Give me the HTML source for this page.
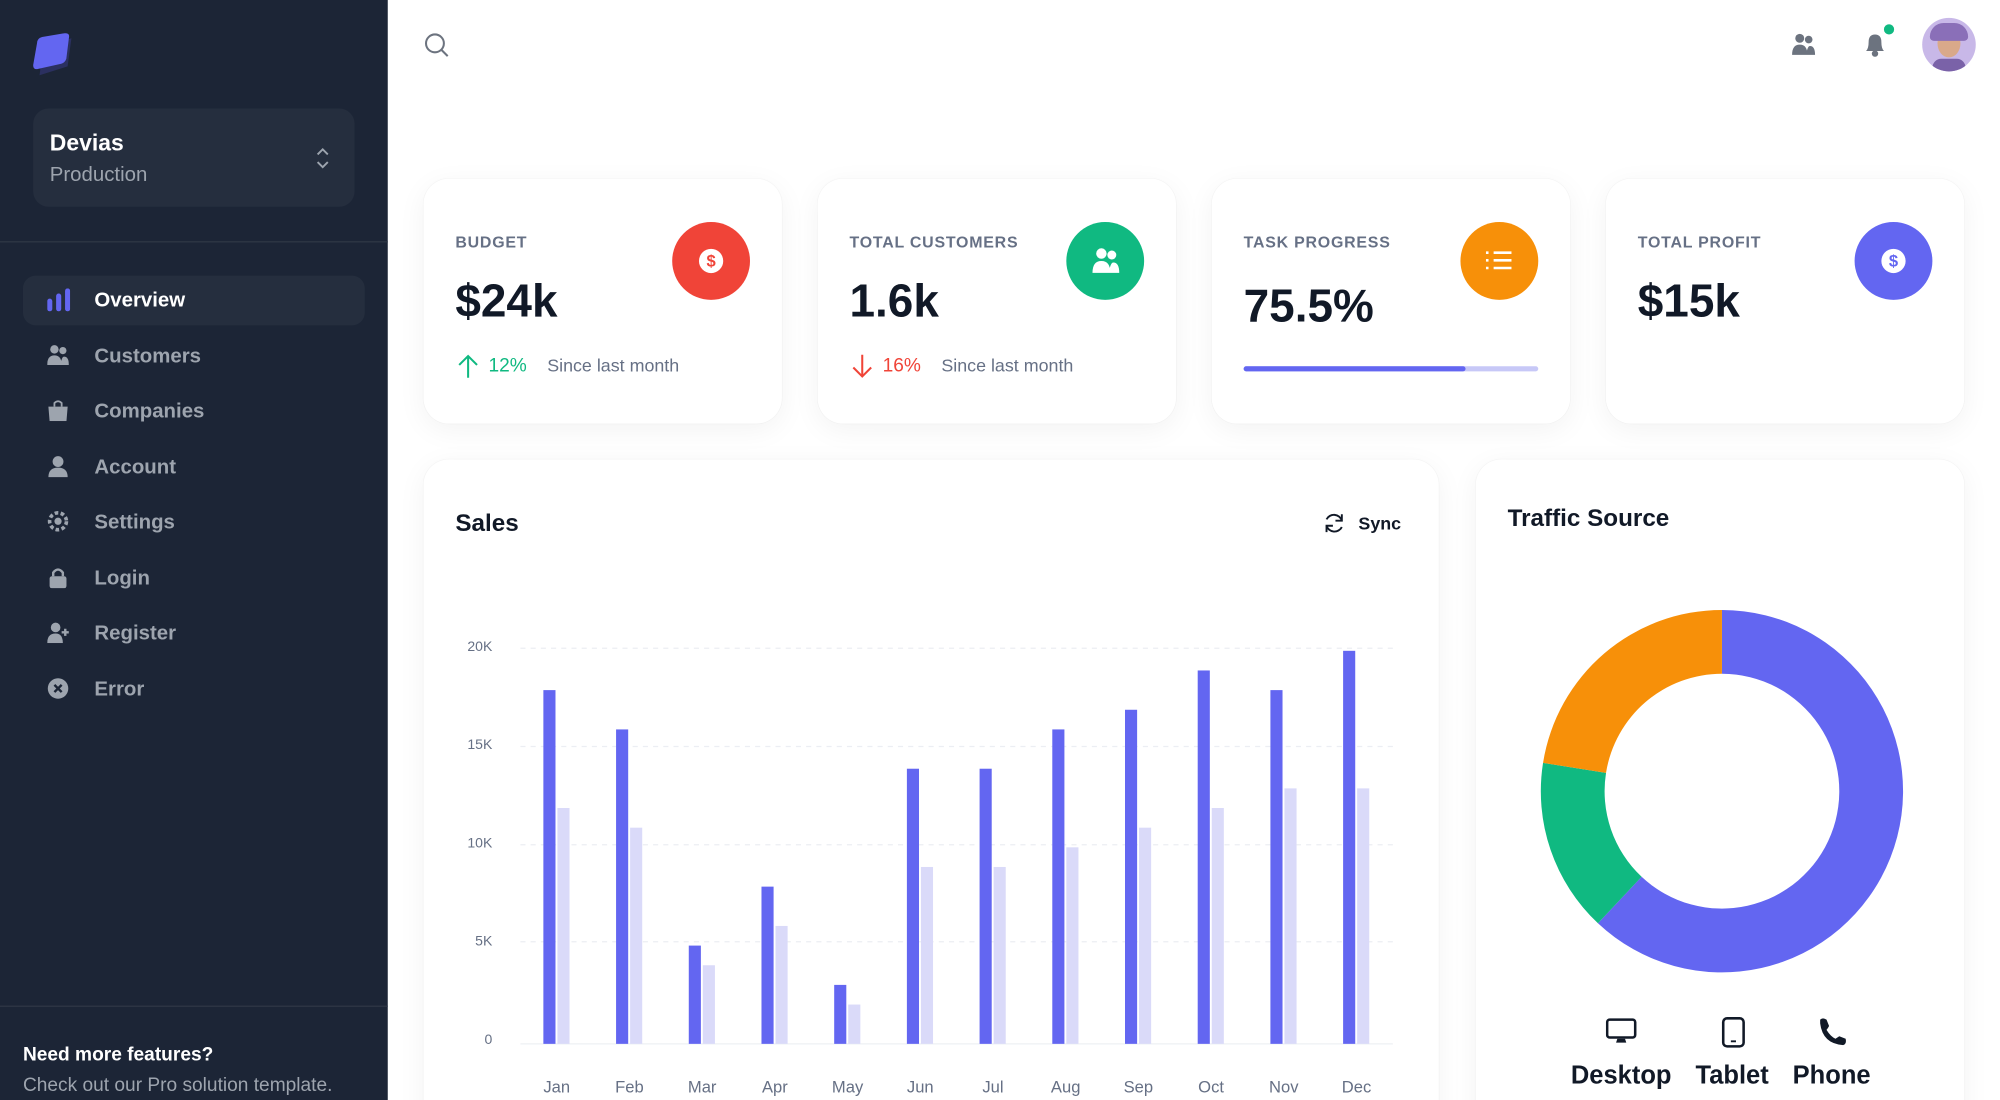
<!DOCTYPE html>
<html><head><meta charset="utf-8"><style>
html,body{margin:0;padding:0;width:2000px;height:1100px;overflow:hidden;background:#fff;font-family:"Liberation Sans",sans-serif;}
#w{position:absolute;left:0;top:0;width:2000px;height:1100px;overflow:hidden;}
#s{position:absolute;left:0;top:0;width:1568px;height:862px;overflow:hidden;transform:scale(1.27551,1.27610);transform-origin:0 0;background:#fff;}
.a{position:absolute;}
.side{left:0;top:0;width:304px;height:862px;background:#1c2536;}
.nav{position:absolute;left:74px;font-size:16px;font-weight:bold;color:#9da4ae;}
.ic{position:absolute;left:37px;width:17px;height:17px;}
.card{position:absolute;background:#fff;border-radius:20px;box-shadow:0 5px 22px rgba(0,0,0,0.05),0 0 0 0.5px rgba(0,0,0,0.03);}
.lbl{position:absolute;left:25px;top:43px;font-size:12.5px;font-weight:bold;letter-spacing:0.6px;color:#667085;}
.val{position:absolute;left:25px;top:75px;font-size:36px;font-weight:bold;color:#111927;}
.circ{position:absolute;left:195px;top:34px;width:61px;height:61px;border-radius:50%;}
.yl{position:absolute;width:30px;text-align:right;font-size:11px;color:#667085;}
.ml{position:absolute;width:40px;text-align:center;font-size:13px;color:#667085;}
</style></head><body><div id="w"><div id="s">
<div class="a side"></div>
<svg class="a" style="left:25px;top:26px" width="38" height="36" viewBox="0 0 38 36"><path d="M9 10 L31 4 L28 26 L6 33 Z" fill="#2b3060"/><path d="M4 8 Q4 4 8 3 L26 0 Q30 0 29 4 L27 20 Q26 23 23 24 L5 28 Q1 29 1 25 Z" fill="#6366f1"/></svg>
<div class="a" style="left:26px;top:85px;width:252px;height:77px;background:#252e3e;border-radius:12px"></div>
<div class="a" style="left:39px;top:102px;font-size:18px;font-weight:bold;color:#fff">Devias</div>
<div class="a" style="left:39px;top:129px;font-size:16px;color:#9da4ae">Production</div>
<svg class="a" style="left:246px;top:114px" width="14" height="20"><path d="M3 7 L7 3 L11 7 M3 13 L7 17 L11 13" stroke="#9da4ae" stroke-width="1.5" fill="none"/></svg>
<div class="a" style="left:0;top:189px;width:304px;height:1px;background:#2f3746"></div>
<div class="a" style="left:18px;top:216px;width:268px;height:39px;background:#252e3e;border-radius:10px"></div>
<svg class="a" style="left:37px;top:226px" width="18" height="18"><rect x="0" y="8" width="4" height="10" rx="2" fill="#6366f1"/><rect x="7" y="4" width="4" height="14" rx="2" fill="#6366f1"/><rect x="14" y="0" width="4" height="18" rx="2" fill="#6366f1"/></svg>
<div class="nav" style="top:227px;color:#fff">Overview</div>
<svg class="ic" style="top:270px" viewBox="0 0 18 18"><circle cx="6" cy="4" r="3.5" fill="#9da4ae"/><circle cx="13" cy="5" r="3" fill="#9da4ae"/><path d="M0 17 Q0 9 6 9 Q12 9 12 17Z M11 17 Q12 10 14 10 Q18 10 18 17Z" fill="#9da4ae"/></svg>
<div class="nav" style="top:271px">Customers</div>
<svg class="ic" style="top:313px" viewBox="0 0 18 18"><path d="M1 6 H17 L16 18 H2 Z" fill="#9da4ae"/><path d="M6 6 V3 Q9 0 12 3 V6" stroke="#9da4ae" stroke-width="1.5" fill="none"/></svg>
<div class="nav" style="top:314px">Companies</div>
<svg class="ic" style="top:357px" viewBox="0 0 18 18"><circle cx="9" cy="5" r="4.5" fill="#9da4ae"/><path d="M1 18 Q1 10 9 10 Q17 10 17 18Z" fill="#9da4ae"/></svg>
<div class="nav" style="top:358px">Account</div>
<svg class="ic" style="top:400px" viewBox="0 0 18 18"><circle cx="9" cy="9" r="7" stroke="#9da4ae" stroke-width="3" stroke-dasharray="3 2" fill="none"/><circle cx="9" cy="9" r="3" fill="#9da4ae"/></svg>
<div class="nav" style="top:401px">Settings</div>
<svg class="ic" style="top:444px" viewBox="0 0 18 18"><rect x="2" y="8" width="14" height="10" rx="2" fill="#9da4ae"/><path d="M5 8 V5 Q9 0 13 5 V8" stroke="#9da4ae" stroke-width="2" fill="none"/></svg>
<div class="nav" style="top:445px">Login</div>
<svg class="ic" style="top:487px" viewBox="0 0 18 18"><circle cx="7" cy="5" r="4" fill="#9da4ae"/><path d="M0 18 Q0 10 7 10 Q13 10 13 18Z" fill="#9da4ae"/><path d="M15 6 V12 M12 9 H18" stroke="#9da4ae" stroke-width="2"/></svg>
<div class="nav" style="top:488px">Register</div>
<svg class="ic" style="top:531px" viewBox="0 0 18 18"><circle cx="9" cy="9" r="8.5" fill="#9da4ae"/><path d="M6 6 L12 12 M12 6 L6 12" stroke="#1c2536" stroke-width="2"/></svg>
<div class="nav" style="top:532px">Error</div>
<div class="a" style="left:0;top:788px;width:304px;height:1px;background:#2f3746"></div>
<div class="a" style="left:18px;top:818px;font-size:15px;font-weight:bold;color:#fff">Need more features?</div>
<div class="a" style="left:18px;top:842px;font-size:15px;color:#9da4ae">Check out our Pro solution template.</div>

<svg class="a" style="left:331px;top:24px" width="22" height="22"><circle cx="10" cy="10" r="7" stroke="#6c737f" stroke-width="1.6" fill="none"/><path d="M15 15 L20 20" stroke="#6c737f" stroke-width="1.6"/></svg>
<svg class="a" style="left:1403px;top:26px" width="22" height="18" viewBox="0 0 18 18"><circle cx="6" cy="4" r="3.5" fill="#6c737f"/><circle cx="13" cy="5" r="3" fill="#6c737f"/><path d="M0 17 Q0 9 6 9 Q12 9 12 17Z M11 17 Q12 10 14 10 Q18 10 18 17Z" fill="#6c737f"/></svg>
<svg class="a" style="left:1460px;top:24px" width="20" height="22"><path d="M3 16 Q5 14 5 9 Q5 3 10 3 Q15 3 15 9 Q15 14 17 16 Z" fill="#6c737f"/><circle cx="10" cy="18" r="2.5" fill="#6c737f"/></svg>
<div class="a" style="left:1477px;top:19px;width:8px;height:8px;border-radius:50%;background:#10b981"></div>
<div class="a" style="left:1507px;top:14px;width:42px;height:42px;border-radius:50%;background:#c8b8e8;overflow:hidden"><div style="position:absolute;left:12px;top:9px;width:18px;height:22px;border-radius:50%;background:#d9a98a"></div><div style="position:absolute;left:6px;top:4px;width:30px;height:14px;border-radius:14px 14px 4px 4px;background:#8a6fb8"></div><div style="position:absolute;left:8px;top:32px;width:26px;height:14px;border-radius:8px;background:#7a62a8"></div></div>

<div class="card" style="left:332px;top:140px;width:281px;height:192px">
 <div class="lbl">BUDGET</div><div class="val">$24k</div>
 <div class="circ" style="background:#f04438"><div style="position:absolute;left:21px;top:21px;width:19px;height:19px;border-radius:50%;background:#fff;color:#f04438;font-size:13px;font-weight:bold;text-align:center;line-height:19px">$</div></div>
 <svg class="a" style="left:26px;top:137px" width="18" height="20"><path d="M9 19 V2 M2 9 L9 2 L16 9" stroke="#10b981" stroke-width="1.6" fill="none"/></svg>
 <div class="a" style="left:51px;top:138px;font-size:15px;color:#10b981">12%</div>
 <div class="a" style="left:97px;top:138px;font-size:14px;color:#667085">Since last month</div>
</div>
<div class="card" style="left:641px;top:140px;width:281px;height:192px">
 <div class="lbl">TOTAL CUSTOMERS</div><div class="val">1.6k</div>
 <div class="circ" style="background:#10b981"><svg style="position:absolute;left:19px;top:20px" width="24" height="21" viewBox="0 0 18 18"><circle cx="6" cy="4" r="3.5" fill="#fff"/><circle cx="13" cy="5" r="3" fill="#fff"/><path d="M0 17 Q0 9 6 9 Q12 9 12 17Z M11 17 Q12 10 14 10 Q18 10 18 17Z" fill="#fff"/></svg></div>
 <svg class="a" style="left:26px;top:137px" width="18" height="20"><path d="M9 1 V18 M2 11 L9 18 L16 11" stroke="#f04438" stroke-width="1.6" fill="none"/></svg>
 <div class="a" style="left:51px;top:138px;font-size:15px;color:#f04438">16%</div>
 <div class="a" style="left:97px;top:138px;font-size:14px;color:#667085">Since last month</div>
</div>
<div class="card" style="left:950px;top:140px;width:281px;height:192px">
 <div class="lbl">TASK PROGRESS</div><div class="val" style="top:79px">75.5%</div>
 <div class="circ" style="background:#f79009"><svg style="position:absolute;left:19px;top:20px" width="22" height="20"><path d="M1 4 H3 M7 4 H21 M1 10 H3 M7 10 H21 M1 16 H3 M7 16 H21" stroke="#fff" stroke-width="2"/></svg></div>
 <div class="a" style="left:25px;top:147px;width:231px;height:4px;background:#c7c8f7;border-radius:2px"></div>
 <div class="a" style="left:25px;top:147px;width:174px;height:4px;background:#6366f1;border-radius:2px"></div>
</div>
<div class="card" style="left:1259px;top:140px;width:281px;height:192px">
 <div class="lbl">TOTAL PROFIT</div><div class="val">$15k</div>
 <div class="circ" style="background:#6366f1"><div style="position:absolute;left:21px;top:21px;width:19px;height:19px;border-radius:50%;background:#fff;color:#6366f1;font-size:13px;font-weight:bold;text-align:center;line-height:19px">$</div></div>
</div>

<div class="card" style="left:332px;top:360px;width:796px;height:540px"></div>
<div class="a" style="left:357px;top:400px;font-size:19px;font-weight:bold;color:#111927">Sales</div>
<svg class="a" style="left:1037px;top:401px" width="18" height="18"><path d="M15 7 A6.5 6.5 0 0 0 3 6 M3 11 A6.5 6.5 0 0 0 15 12" stroke="#111927" stroke-width="1.5" fill="none"/><path d="M15 2 V7 H10 M3 16 V11 H8" stroke="#111927" stroke-width="1.5" fill="none"/></svg>
<div class="a" style="left:1065px;top:402px;font-size:14px;font-weight:bold;color:#111927">Sync</div>

<svg class="a" style="left:0;top:0" width="1568" height="862">
<g stroke="#eceef3" stroke-dasharray="4 4" stroke-width="1">
<line x1="408" y1="508" x2="1092" y2="508"/><line x1="408" y1="585" x2="1092" y2="585"/><line x1="408" y1="662" x2="1092" y2="662"/><line x1="408" y1="738" x2="1092" y2="738"/></g>
<line x1="408" y1="818" x2="1092" y2="818" stroke="#eef0f4" stroke-width="1"/>
<g id="bars"></g>
</svg>
<div class="yl" style="left:356px;top:501px">20K</div>
<div class="yl" style="left:356px;top:578px">15K</div>
<div class="yl" style="left:356px;top:655px">10K</div>
<div class="yl" style="left:356px;top:732px">5K</div>
<div class="yl" style="left:356px;top:809px">0</div>
<div id="ml"></div>

<div class="card" style="left:1157px;top:360px;width:383px;height:540px"></div>
<div class="a" style="left:1182px;top:396px;font-size:19px;font-weight:bold;color:#111927">Traffic Source</div>
<svg class="a" style="left:1200px;top:470px" width="300" height="300" viewBox="-150 -150 300 300" id="donut"></svg>
<svg class="a" style="left:1259px;top:797px" width="24" height="24"><rect x="1" y="2" width="22" height="14" rx="2" stroke="#111927" stroke-width="2" fill="none"/><path d="M8 20 H16 L15 17 H9 Z" fill="#111927"/></svg>
<svg class="a" style="left:1349px;top:796px" width="20" height="26"><rect x="2" y="2" width="16" height="22" rx="3" stroke="#111927" stroke-width="2" fill="none"/><path d="M8 20 H12" stroke="#111927" stroke-width="1.5"/></svg>
<svg class="a" style="left:1424px;top:796px" width="26" height="24"><path d="M3 3 Q5 1 8 3 L10 8 Q9 10 8 11 Q11 16 15 18 L18 16 L23 18 Q24 22 21 23 Q5 22 3 6 Z" fill="#111927"/></svg>
<div class="a" style="left:1221px;top:832px;width:100px;text-align:center;font-size:20px;font-weight:bold;color:#111927">Desktop</div>
<div class="a" style="left:1318px;top:832px;width:80px;text-align:center;font-size:20px;font-weight:bold;color:#111927">Tablet</div>
<div class="a" style="left:1396px;top:832px;width:80px;text-align:center;font-size:20px;font-weight:bold;color:#111927">Phone</div>
</div></div>
<script>
var d=[18,16,5,8,3,14,14,16,17,19,18,20],l=[12,11,4,6,2,9,9,10,11,12,13,13];
var m=["Jan","Feb","Mar","Apr","May","Jun","Jul","Aug","Sep","Oct","Nov","Dec"];
var g="",h="";
for(var i=0;i<12;i++){var c=436.5+i*57;var y0=818,k=15.4;
g+='<rect x="'+(c-10.5)+'" y="'+(y0-d[i]*k)+'" width="9.5" height="'+(d[i]*k)+'" fill="#6366f1"/>';
g+='<rect x="'+(c+0.5)+'" y="'+(y0-l[i]*k)+'" width="9.5" height="'+(l[i]*k)+'" fill="#dadaf9"/>';
h+='<div class="ml" style="left:'+(c-20)+'px;top:844px">'+m[i]+'</div>';}
document.getElementById("bars").innerHTML=g;document.getElementById("ml").outerHTML=h;
var segs=[[0,0.62,"#6366f1"],[0.62,0.775,"#10b981"],[0.775,1,"#f79009"]],R=142,r=92,s="";
function p(a,rad){a=a*2*Math.PI;return [rad*Math.sin(a),-rad*Math.cos(a)];}
segs.forEach(function(q){var a=p(q[0],R),b=p(q[1],R),c=p(q[1],r),e=p(q[0],r),lg=(q[1]-q[0])>0.5?1:0;
s+='<path d="M'+a+' A'+R+' '+R+' 0 '+lg+' 1 '+b+' L'+c+' A'+r+' '+r+' 0 '+lg+' 0 '+e+' Z" fill="'+q[2]+'"/>';});
document.getElementById("donut").innerHTML=s;
</script>
</body></html>
